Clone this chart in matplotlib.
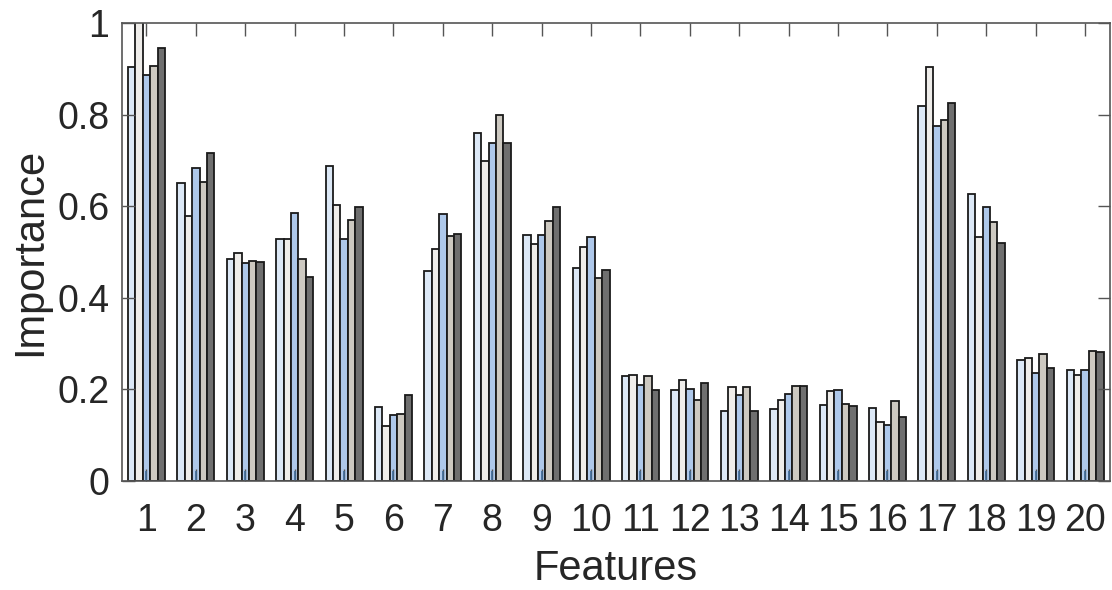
import matplotlib.pyplot as plt
import numpy as np

plt.rcParams['font.family'] = ['Liberation Sans', 'DejaVu Sans']

features = list(range(1, 21))

# one list per model
imp_a = [0.905, 0.650, 0.484, 0.529, 0.688, 0.161, 0.458, 0.759, 0.536, 0.464,
         0.228, 0.199, 0.153, 0.157, 0.166, 0.159, 0.819, 0.626, 0.265, 0.243]
imp_b = [1.05, 0.579, 0.497, 0.528, 0.603, 0.119, 0.506, 0.699, 0.518, 0.510,
         0.232, 0.220, 0.206, 0.177, 0.197, 0.129, 0.903, 0.533, 0.269, 0.231]
imp_c = [0.887, 0.684, 0.475, 0.585, 0.528, 0.143, 0.583, 0.737, 0.538, 0.533,
         0.210, 0.201, 0.187, 0.189, 0.199, 0.122, 0.776, 0.598, 0.235, 0.243]
imp_d = [0.907, 0.652, 0.480, 0.484, 0.570, 0.146, 0.535, 0.798, 0.568, 0.443,
         0.228, 0.177, 0.206, 0.208, 0.168, 0.175, 0.788, 0.566, 0.276, 0.284]
imp_e = [0.946, 0.716, 0.477, 0.445, 0.598, 0.187, 0.540, 0.737, 0.598, 0.460,
         0.198, 0.213, 0.153, 0.208, 0.164, 0.140, 0.825, 0.520, 0.247, 0.281]

series = [imp_a, imp_b, imp_c, imp_d, imp_e]
colors = ['#dce8f6', '#efedea', '#aec8ea', '#cdc9c1', '#6f6f6f']

fig = plt.figure(figsize=(11.12, 5.9), dpi=100)
ax = fig.add_axes([0.1095, 0.185, 0.8885, 0.776])

x = np.array(features)
w = 0.15
for i, vals in enumerate(series):
    ax.bar(x + (i - 2) * w, vals, width=w, color=colors[i],
           edgecolor='#1a1a1a', linewidth=1.3)

# small marks at the foot of the middle bars
ax.vlines(x, 0, 0.022, color='#3f6a96', linewidth=1.2)

ax.set_xlim(0.5, 20.5)
ax.set_ylim(0, 1)
ax.set_xticks(features)
ax.set_yticks([0, 0.2, 0.4, 0.6, 0.8, 1.0])
ax.set_yticklabels(['0', '0.2', '0.4', '0.6', '0.8', '1'])

txt = '#262626'
ax.tick_params(direction='in', length=9, width=1, color='#555555',
               top=True, right=True, labelsize=27, labelcolor=txt)
ax.tick_params(axis='x', pad=16)
ax.tick_params(axis='y', pad=9)
for s in ax.spines.values():
    s.set_color('#555555')
    s.set_linewidth(1.2)

ax.set_xlabel('Features', fontsize=30, color=txt, labelpad=7)
ax.set_ylabel('Importance', fontsize=30, color=txt, labelpad=5)

fig.savefig('out.png', dpi=100)
